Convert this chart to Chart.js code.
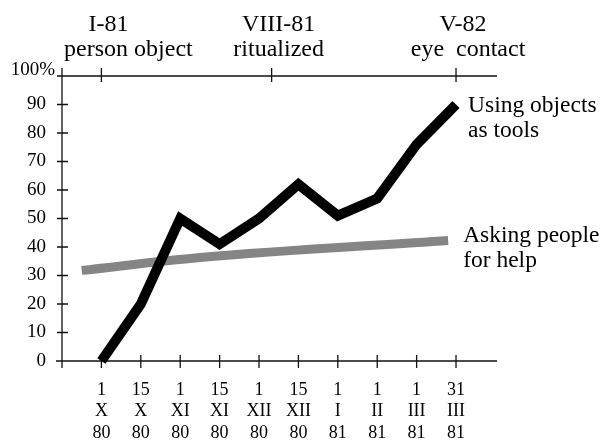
<!DOCTYPE html>
<html>
<head>
<meta charset="utf-8">
<script src="https://cdn.jsdelivr.net/npm/chart.js@4.4.1/dist/chart.umd.min.js"></script>
<style>
    html, body { margin: 0; padding: 0; background: #fff; }
    #chart { display: block; }
</style>
</head>
<body>
<canvas id="chart" width="609" height="442"></canvas>
<script>
// dates on the bottom axis (day / month / year)
const dayLabels = ['1', '15', '1', '15', '1', '15', '1', '1', '1', '31'];
const monthLabels = ['X', 'X', 'XI', 'XI', 'XII', 'XII', 'I', 'II', 'III', 'III'];
const yearLabels = ['80', '80', '80', '80', '80', '80', '81', '81', '81', '81'];

// percentages
const toolsValues = [0, 20, 50, 41, 50, 62, 51, 57, 76, 90];
const helpX = [-0.5, 2.5, 8.8];
const helpValues = [31.8, 36.3, 42.3];

const yTicks = [0, 10, 20, 30, 40, 50, 60, 70, 80, 90, 100];

// second time line along the top
const topMarks = [0, 4.32, 9];
const topYears = ['I-81', 'VIII-81', 'V-82'];
const topEvents = ['person object', 'ritualized', 'eye  contact'];

const seriesNames = [['Using objects', 'as tools'], ['Asking people', 'for help']];

const FONT = '"Liberation Serif", "Times New Roman", serif';

const decorPlugin = {
    id: 'decor',
    beforeDatasetsDraw(chart) {
        const ctx = chart.ctx;
        const x = chart.scales.x;
        const y = chart.scales.y;
        const left = x.getPixelForValue(-1);
        const right = x.getPixelForValue(x.max);
        const y0 = y.getPixelForValue(0);
        const y100 = y.getPixelForValue(100);

        ctx.save();
        ctx.strokeStyle = '#111';
        ctx.lineWidth = 1.3;
        ctx.beginPath();
        // axes
        ctx.moveTo(left, y100 - 8);
        ctx.lineTo(left, y0 + 7);
        ctx.moveTo(left - 6, y0);
        ctx.lineTo(right, y0);
        ctx.moveTo(left, y100);
        ctx.lineTo(right, y100);
        // y ticks crossing the axis
        yTicks.forEach(v => {
            const py = y.getPixelForValue(v);
            ctx.moveTo(left - 5, py);
            ctx.lineTo(left + 6, py);
        });
        // bottom ticks
        dayLabels.forEach((_, i) => {
            const px = x.getPixelForValue(i);
            ctx.moveTo(px, y0 - 6);
            ctx.lineTo(px, y0 + 7);
        });
        // top ticks
        topMarks.forEach(m => {
            const px = x.getPixelForValue(m);
            ctx.moveTo(px, y100 - 8);
            ctx.lineTo(px, y100 + 6);
        });
        ctx.stroke();
        ctx.restore();
    },
    afterDraw(chart) {
        const ctx = chart.ctx;
        const x = chart.scales.x;
        const y = chart.scales.y;
        const left = x.getPixelForValue(-1);
        const y100 = y.getPixelForValue(100);

        ctx.save();
        ctx.fillStyle = '#000';
        ctx.textBaseline = 'middle';

        // 100% sits a little above its tick
        ctx.font = '19px ' + FONT;
        ctx.textAlign = 'right';
        ctx.fillText('100%', left - 7, y100 - 6);

        // top annotations
        ctx.font = '24px ' + FONT;
        ctx.textAlign = 'center';
        const eventShift = [27, 7, 12];
        topMarks.forEach((m, i) => {
            const px = x.getPixelForValue(m);
            ctx.fillText(topYears[i], px + 7, y100 - 51);
            ctx.fillText(topEvents[i], px + eventShift[i], y100 - 26);
        });

        // series names next to the line ends
        ctx.font = '23.5px ' + FONT;
        ctx.textAlign = 'left';
        const nameShift = [[12, 1], [15, -5]];
        chart.data.datasets.forEach((ds, i) => {
            const pts = chart.getDatasetMeta(i).data;
            const last = pts[pts.length - 1];
            seriesNames[i].forEach((line, j) => {
                ctx.fillText(line, last.x + nameShift[i][0], last.y + nameShift[i][1] + j * 25);
            });
        });
        ctx.restore();
    }
};

const ctx = document.getElementById('chart').getContext('2d');
const chart = new Chart(ctx, {
    type: 'line',
    data: {
        datasets: [{
            label: seriesNames[0].join(' '),
            data: toolsValues.map((v, i) => ({ x: i, y: v })),
            borderColor: '#000',
            borderWidth: 10,
            borderJoinStyle: 'miter',
            borderCapStyle: 'butt',
            pointRadius: 0,
            tension: 0,
            clip: false,
            order: 0
        }, {
            label: seriesNames[1].join(' '),
            data: helpValues.map((v, i) => ({ x: helpX[i], y: v })),
            borderColor: '#858585',
            borderWidth: 9,
            borderCapStyle: 'butt',
            pointRadius: 0,
            cubicInterpolationMode: 'monotone',
            clip: false,
            order: 1
        }]
    },
    options: {
        responsive: false,
        devicePixelRatio: 1,
        animation: false,
        layout: {
            padding: { top: 76, right: 112, left: 0, bottom: 0 }
        },
        plugins: {
            legend: { display: false },
            tooltip: { enabled: false }
        },
        scales: {
            x: {
                type: 'linear',
                position: 'bottom',
                min: -1,
                max: 10.04,
                grid: { display: false, drawTicks: false },
                border: { display: false },
                afterBuildTicks: function(scale) {
                    scale.ticks = dayLabels.map((_, i) => ({ value: i }));
                },
                afterFit: function(scale) {
                    scale.height = 81;
                },
                ticks: {
                    autoSkip: false,
                    maxRotation: 0,
                    padding: 18,
                    color: '#000',
                    font: { family: FONT, size: 18, lineHeight: 1.2 },
                    callback: function(value) {
                        return [dayLabels[value], monthLabels[value], yearLabels[value]];
                    }
                }
            },
            y: {
                min: 0,
                max: 100,
                grid: { display: false, drawTicks: false },
                border: { display: false },
                afterBuildTicks: function(scale) {
                    scale.ticks = yTicks.map(v => ({ value: v }));
                },
                afterFit: function(scale) {
                    scale.width = 62;
                },
                ticks: {
                    padding: 16,
                    color: '#000',
                    font: { family: FONT, size: 19 },
                    callback: function(value) {
                        return value === 100 ? '' : value;
                    }
                }
            }
        }
    },
    plugins: [decorPlugin]
});
</script>
</body>
</html>
